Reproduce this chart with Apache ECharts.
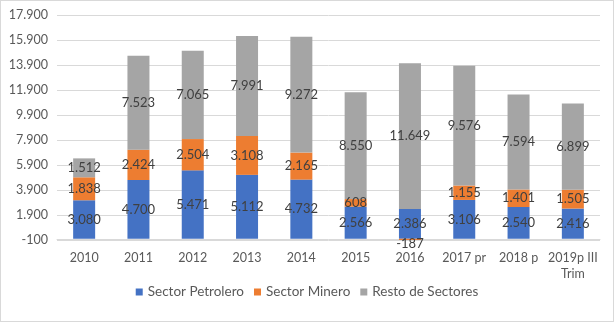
<!DOCTYPE html>
<html>
<head>
<meta charset="utf-8">
<script src="https://cdn.jsdelivr.net/npm/echarts@6/dist/echarts.min.js"></script>
<style>
  html, body { margin: 0; padding: 0; background: #fff; }
  #chart { width: 612px; height: 320px; border: 1px solid #d9d9d9; }
</style>
</head>
<body>
<div id="chart"></div>
<script>
// Categories and series values (millones)
const categories = ['2010', '2011', '2012', '2013', '2014', '2015', '2016', '2017 pr', '2018 p', '2019p III\nTrim'];
const petrolero = [3080, 4700, 5471, 5112, 4732, 2566, 2386, 3106, 2540, 2416];
const minero    = [1838, 2424, 2504, 3108, 2165, 608, -187, 1155, 1401, 1505];
const resto     = [1512, 7523, 7065, 7991, 9272, 8550, 11649, 9576, 7594, 6899];

const FONT = 'Lato, "Noto Sans", sans-serif';

function fmt(v) {
  const s = Math.abs(v).toString().replace(/\B(?=(\d{3})+(?!\d))/g, '.');
  return (v < 0 ? '-' : '') + s;
}

const labelStyle = {
  show: true,
  position: 'inside',
  color: '#404040',
  fontSize: 13,
  fontFamily: FONT,
  formatter: p => fmt(p.value)
};

// negative segments get their label nudged just under the axis
function withNegLabels(data) {
  return data.map(v => v < 0 ? { value: v, label: { offset: [0, 4] } } : v);
}

function series(name, data, color) {
  return {
    name, type: 'bar', stack: 'total', data: withNegLabels(data),
    barWidth: 22,
    itemStyle: { color },
    label: labelStyle
  };
}

const chart = echarts.init(document.getElementById('chart'));
chart.setOption({
  animation: false,
  textStyle: { fontFamily: FONT },
  grid: { left: 56, right: 13, top: 14, bottom: 81 },
  legend: {
    bottom: 17,
    left: 'center',
    itemWidth: 7,
    itemHeight: 7,
    itemGap: 10,
    icon: 'rect',
    textStyle: { color: '#595959', fontSize: 13.5, fontFamily: FONT },
    data: ['Sector Petrolero', 'Sector Minero', 'Resto de Sectores']
  },
  xAxis: {
    type: 'category',
    data: categories,
    axisLine: { lineStyle: { color: '#d9d9d9', width: 1 } },
    axisTick: { show: false },
    axisLabel: { interval: 0, color: '#595959', fontSize: 12.5, fontFamily: FONT, margin: 10, lineHeight: 16 }
  },
  yAxis: {
    type: 'value',
    min: -100,
    max: 17900,
    interval: 2000,
    axisLine: { show: false },
    axisTick: { show: false },
    splitLine: { lineStyle: { color: '#d9d9d9' } },
    axisLabel: { color: '#595959', fontSize: 12.5, fontFamily: FONT, margin: 9, formatter: v => fmt(v) }
  },
  series: [
    series('Sector Petrolero', petrolero, '#4472C4'),
    series('Sector Minero', minero, '#ED7D31'),
    series('Resto de Sectores', resto, '#A5A5A5')
  ]
});
</script>
</body>
</html>
